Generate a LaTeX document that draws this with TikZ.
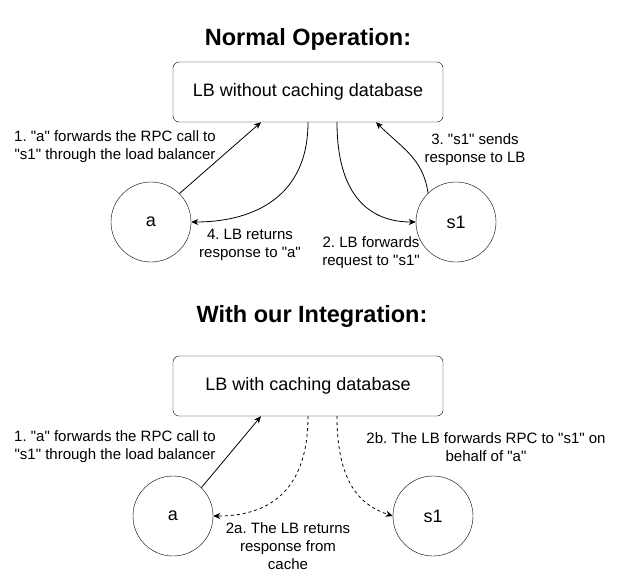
\documentclass[tikz,border=0pt]{standalone}
\usepackage{fontspec}
\setmainfont{Liberation Sans}[Ligatures=TeXOff]
\usetikzlibrary{arrows.meta}
\frenchspacing
\tikzset{
  lbbox/.style={draw, rounded corners=6pt, minimum width=270pt, minimum height=60pt, font=\fontsize{18}{21}\selectfont},
  host/.style={draw, circle, minimum size=80pt, inner sep=0pt, font=\fontsize{18}{21}\selectfont},
  note/.style={align=center, font=\fontsize{15}{18}\selectfont, inner sep=0pt},
  title/.style={font=\fontsize{23.5}{27}\selectfont\bfseries, inner sep=0pt},
  msg/.style={-{Stealth[length=7pt,width=6pt,inset=2pt]}, line width=0.8pt},
}
\begin{document}
\begin{tikzpicture}[x=1pt,y=-1pt]
  \useasboundingbox (0,0) rectangle (634,587);
  % normal operation
  \node[title] (t1) at (308,39) {Normal Operation:};
  \node[lbbox] (lb1) at (308,92) {LB without caching database};
  \node[host] (a1) at (151,222) {a};
  \node[host] (s1) at (456,222) {s1};
  \draw[msg] (a1.45) -- ([xshift=-47pt]lb1.south); %1
  \draw[msg] ([xshift=29pt]lb1.south) .. controls +(0,75) and +(-45,0) .. (s1.west); %2
  \draw[msg] (s1.134) .. controls +(-5,-35) and +(25,25) .. ([xshift=68pt]lb1.south); %3
  \draw[msg] (lb1.south) .. controls +(0,80) and +(55,0) .. (a1.east); %4
  \node[note] (n1) at (115,147) {1. "a" forwards the RPC call to\\"s1" through the load balancer};
  \node[note] (n2) at (371,253) {2. LB forwards\\request to "s1"};
  \node[note] (n3) at (475,150) {3. "s1" sends\\response to LB};
  \node[note] (n4) at (250,245) {4. LB returns\\response to "a"};
  % with integration
  \node[title] (t2) at (312,316) {With our Integration:};
  \node[lbbox] (lb2) at (308,386) {LB with caching database};
  \node[host] (a2) at (173,516) {a};
  \node[host] (s2) at (433,516) {s1};
  \draw[msg] (a2.45) -- ([xshift=-47pt]lb2.south); %1
  \draw[msg, dashed] (lb2.south) .. controls +(0,80) and +(50,0) .. (a2.east); %2a
  \draw[msg, dashed] ([xshift=29pt]lb2.south) .. controls +(0,70) and +(-30,-10) .. (s2.west); %2b
  \node[note] (m1) at (115,447) {1. "a" forwards the RPC call to\\"s1" through the load balancer};
  \node[note] (m2) at (288,546) {2a. The LB returns\\response from\\cache};
  \node[note] (m3) at (486,447) {2b. The LB forwards RPC to "s1" on\\behalf of "a"};
\end{tikzpicture}
\end{document}
